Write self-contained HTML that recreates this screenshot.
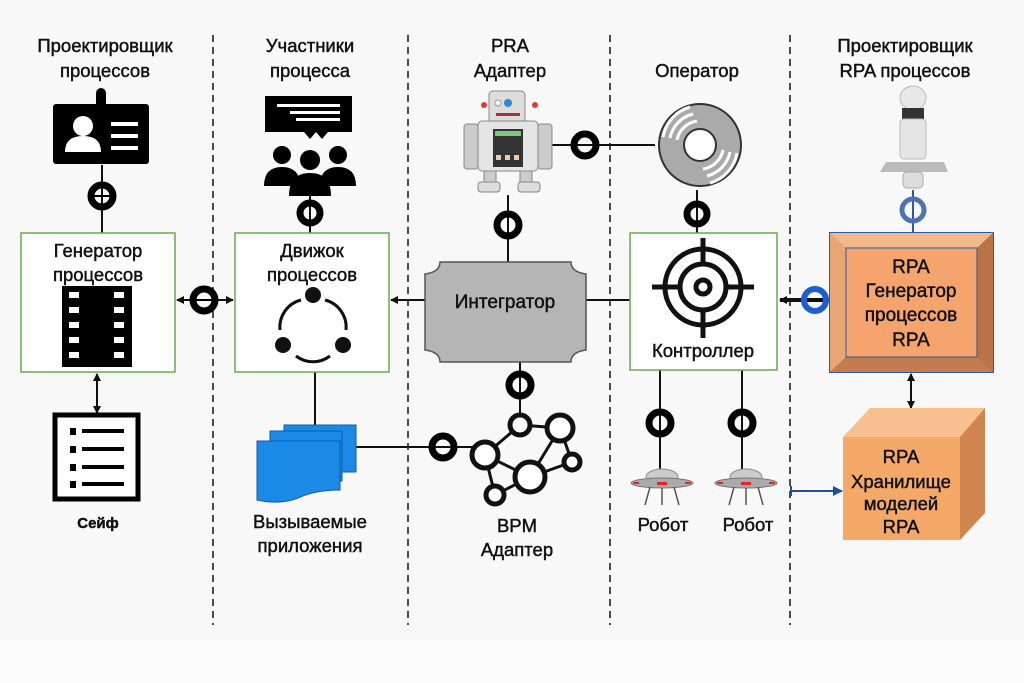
<!DOCTYPE html>
<html><head><meta charset="utf-8"><style>
html,body{margin:0;padding:0;background:#f8f8f8;}
svg{display:block;}
text{font-family:"Liberation Sans","DejaVu Sans",sans-serif;stroke:#111;stroke-width:0.45;}
</style></head><body>
<svg width="1024" height="683" viewBox="0 0 1024 683" xmlns="http://www.w3.org/2000/svg">
<defs>
<marker id="ah" markerWidth="8" markerHeight="8" refX="7" refY="4" orient="auto-start-reverse" markerUnits="userSpaceOnUse"><path d="M0,0 L8,4 L0,8 z" fill="#111"/></marker>
<marker id="ahb" markerWidth="10" markerHeight="10" refX="9" refY="5" orient="auto" markerUnits="userSpaceOnUse"><path d="M0,0 L10,5 L0,10 z" fill="#1f4fa0"/></marker>
</defs>
<rect width="1024" height="683" fill="#f8f8f8"/>
<rect x="0" y="640" width="1024" height="43" fill="#fcfcfc"/>
<g stroke="#222" stroke-width="1.6" stroke-dasharray="7,5">
<line x1="213" y1="35" x2="213" y2="625"/>
<line x1="408" y1="35" x2="408" y2="625"/>
<line x1="610" y1="35" x2="610" y2="625"/>
<line x1="790" y1="35" x2="790" y2="625"/>
</g>
<g font-size="18.5" fill="#111" text-anchor="middle">
<text x="105" y="52">Проектировщик</text><text x="105" y="77">процессов</text>
<text x="310" y="52">Участники</text><text x="310" y="77">процесса</text>
<text x="510" y="52">PRA</text><text x="510" y="77">Адаптер</text>
<text x="697" y="77">Оператор</text>
<text x="905" y="52">Проектировщик</text><text x="905" y="77">RPA процессов</text>
</g>
<g stroke="#111" stroke-width="2" fill="none">
<line x1="102" y1="165" x2="102" y2="233"/>
<line x1="310" y1="190" x2="310" y2="233"/>
<line x1="540" y1="145" x2="655" y2="145"/>
<line x1="508" y1="195" x2="508" y2="262"/>
<line x1="697" y1="190" x2="697" y2="233"/>
<line x1="177" y1="300" x2="233" y2="300" marker-start="url(#ah)" marker-end="url(#ah)"/>
<line x1="425" y1="300" x2="391" y2="300" marker-end="url(#ah)"/>
<line x1="586" y1="300" x2="630" y2="300"/>
<line x1="97" y1="374" x2="97" y2="413" marker-start="url(#ah)" marker-end="url(#ah)"/>
<line x1="315" y1="372" x2="315" y2="425"/>
<line x1="520" y1="362" x2="520" y2="420"/>
<line x1="350" y1="447" x2="480" y2="447"/>
<line x1="660" y1="370" x2="660" y2="470"/>
<line x1="742" y1="370" x2="742" y2="470"/>
<line x1="911" y1="374" x2="911" y2="408" marker-start="url(#ah)" marker-end="url(#ah)"/>
</g>
<line x1="913" y1="190" x2="913" y2="233" stroke="#2a5aa8" stroke-width="2"/>
<line x1="830" y1="300" x2="780" y2="300" stroke="#111" stroke-width="4" marker-end="url(#ah)"/>
<line x1="791" y1="491" x2="842" y2="491" stroke="#1f4fa0" stroke-width="2" marker-end="url(#ahb)"/>
<line x1="791" y1="486" x2="791" y2="496" stroke="#1f4fa0" stroke-width="2"/>
<rect x="21" y="233" width="154" height="139" fill="#fff" stroke="#6aa84f" stroke-width="1.5"/>
<rect x="235" y="233" width="154" height="139" fill="#fff" stroke="#6aa84f" stroke-width="1.5"/>
<rect x="630" y="233" width="147" height="137" fill="#fff" stroke="#6aa84f" stroke-width="1.5"/>
<path d="M440,262 H571 Q571,272 586,274 V350 Q571,352 571,362 H440 Q440,352 425,350 V274 Q440,272 440,262 z" fill="#b5b5b5" stroke="#555" stroke-width="1.5"/>
<text x="505" y="308" font-size="19" text-anchor="middle" fill="#111">Интегратор</text>
<rect x="830" y="233" width="163" height="139" fill="#d08a5a" stroke="#2a5aa8" stroke-width="2"/>
<polygon points="830,233 993,233 977,248 846,248" fill="#f2b98a"/>
<polygon points="830,233 846,248 846,357 830,372" fill="#e9a675"/>
<polygon points="993,233 977,248 977,357 993,372" fill="#b87448"/>
<polygon points="830,372 846,357 977,357 993,372" fill="#c27c4e"/>
<rect x="846" y="248" width="131" height="109" fill="#f4a46c" stroke="#2a5aa8" stroke-width="1"/>
<g font-size="19" text-anchor="middle" fill="#111">
<text x="911" y="273">RPA</text><text x="911" y="297">Генератор</text><text x="911" y="321">процессов</text><text x="911" y="346">RPA</text>
</g>
<polygon points="843,437 870,408 985,408 960,437" fill="#f7c08e"/>
<polygon points="960,437 985,408 985,513 960,540" fill="#d0854f"/>
<rect x="843" y="437" width="117" height="103" fill="#f5a968"/>
<g font-size="18.5" text-anchor="middle" fill="#111">
<text x="901" y="463">RPA</text><text x="901" y="488">Хранилище</text><text x="901" y="510">моделей</text><text x="901" y="533">RPA</text>
</g>
<g font-size="18.5" text-anchor="middle" fill="#111">
<text x="98" y="257">Генератор</text><text x="98" y="281">процессов</text>
<text x="312" y="257">Движок</text><text x="312" y="281">процессов</text>
<text x="703" y="357">Контроллер</text>
</g>
<rect x="62" y="286" width="70" height="81" fill="#000"/>
<g fill="#fff">
<rect x="69" y="292" width="10" height="6"/><rect x="69" y="307" width="10" height="6"/><rect x="69" y="322" width="10" height="6"/><rect x="69" y="337" width="10" height="6"/><rect x="69" y="352" width="10" height="6"/>
<rect x="114" y="292" width="10" height="6"/><rect x="114" y="307" width="10" height="6"/><rect x="114" y="322" width="10" height="6"/><rect x="114" y="337" width="10" height="6"/><rect x="114" y="352" width="10" height="6"/>
</g>
<g fill="#111"><circle cx="313" cy="295" r="8"/><circle cx="283" cy="345" r="8"/><circle cx="343" cy="345" r="8"/></g>
<g fill="none" stroke="#111" stroke-width="3">
<path d="M301,300 A28,28 0 0 0 280,330"/><path d="M325,300 A28,28 0 0 1 346,330"/><path d="M296,356 A28,28 0 0 0 330,356"/>
</g>
<g fill="none" stroke="#111" stroke-width="5">
<circle cx="703" cy="287" r="38"/><circle cx="703" cy="287" r="23"/><circle cx="703" cy="287" r="7"/>
</g>
<g stroke="#111" stroke-width="5">
<line x1="703" y1="238" x2="703" y2="266"/><line x1="703" y1="308" x2="703" y2="338"/>
<line x1="652" y1="287" x2="682" y2="287"/><line x1="724" y1="287" x2="754" y2="287"/>
</g>
<rect x="96" y="88" width="10" height="22" rx="5" fill="#000"/>
<rect x="53" y="104" width="96" height="60" rx="3" fill="#000"/>
<circle cx="83" cy="126" r="10" fill="#fff"/>
<path d="M65,152 Q65,136 83,136 Q101,136 101,152 z" fill="#fff"/>
<g fill="#fff"><rect x="111" y="122" width="27" height="4"/><rect x="111" y="134" width="27" height="4"/><rect x="111" y="146" width="27" height="4"/></g>
<path d="M265,96 H352 V132 H328 L322,139 L316,132 L310,139 L304,132 H265 z" fill="#000"/>
<g fill="#fff"><rect x="277" y="104" width="63" height="3"/><rect x="290" y="111" width="50" height="3"/><rect x="296" y="118" width="44" height="3"/></g>
<g fill="#000">
<circle cx="282" cy="155" r="9"/><circle cx="338" cy="155" r="9"/><circle cx="310" cy="160" r="10"/>
<path d="M264,186 Q264,167 282,167 Q300,167 300,186 z"/><path d="M320,186 Q320,167 338,167 Q356,167 356,186 z"/>
<path d="M289,196 Q289,173 310,173 Q331,173 331,196 z"/>
</g>
<g>
<rect x="489" y="91" width="36" height="32" rx="4" fill="#ddd" stroke="#888"/>
<circle cx="498" cy="103" r="3" fill="#fff" stroke="#999"/><circle cx="508" cy="103" r="4" fill="#2a8ad8"/>
<circle cx="484" cy="105" r="3" fill="#e33"/><circle cx="535" cy="105" r="3" fill="#e33"/>
<rect x="496" y="113" width="24" height="3" fill="#a33"/>
<rect x="478" y="121" width="60" height="50" rx="4" fill="#e5e5e5" stroke="#888"/>
<rect x="464" y="124" width="14" height="45" rx="3" fill="#ccc" stroke="#888"/>
<rect x="538" y="124" width="14" height="45" rx="3" fill="#ccc" stroke="#888"/>
<rect x="493" y="129" width="30" height="38" fill="#333"/>
<rect x="495" y="131" width="26" height="5" fill="#7c7"/>
<rect x="496" y="155" width="5" height="5" fill="#eca"/><rect x="505" y="155" width="5" height="5" fill="#eca"/><rect x="514" y="155" width="5" height="5" fill="#eca"/>
<rect x="484" y="171" width="12" height="16" fill="#ccc" stroke="#888"/><rect x="520" y="171" width="12" height="16" fill="#ccc" stroke="#888"/>
<rect x="478" y="182" width="22" height="10" rx="3" fill="#ddd" stroke="#888"/><rect x="518" y="182" width="22" height="10" rx="3" fill="#ddd" stroke="#888"/>
</g>
<circle cx="700" cy="145" r="41" fill="#aaa" stroke="#333" stroke-width="2"/>
<circle cx="700" cy="145" r="16" fill="#fff" stroke="#333" stroke-width="2"/>
<g fill="none" stroke="#fff" stroke-width="3">
<path d="M677,140 A24,24 0 0 1 697,121"/><path d="M670,138 A31,31 0 0 1 693,114"/><path d="M663,137 A38,38 0 0 1 690,107"/>
<path d="M723,150 A24,24 0 0 1 703,169"/><path d="M730,152 A31,31 0 0 1 707,176"/><path d="M737,153 A38,38 0 0 1 710,183"/>
</g>
<ellipse cx="913" cy="98" rx="13" ry="12" fill="#e8e8e8" stroke="#bbb"/>
<rect x="902" y="108" width="22" height="12" fill="#333"/>
<rect x="900" y="119" width="26" height="40" rx="4" fill="#e5e5e5" stroke="#bbb"/>
<polygon points="880,172 886,162 944,162 948,172" fill="#bbb"/>
<rect x="903" y="172" width="20" height="16" rx="4" fill="#ddd" stroke="#aaa"/>
<rect x="284" y="425" width="72" height="47" fill="#1a8ae6" stroke="#0a5cb0"/>
<rect x="270" y="431" width="72" height="50" fill="#1a8ae6" stroke="#0a5cb0"/>
<path d="M257,441 H340 V490 Q315,490 298,498 Q280,505 257,500 z" fill="#1a8ae6" stroke="#0a5cb0"/>
<rect x="55" y="415" width="83" height="84" fill="#fff" stroke="#000" stroke-width="5"/>
<g fill="#000">
<rect x="70" y="428" width="6" height="7"/><rect x="82" y="429" width="42" height="4"/>
<rect x="70" y="446" width="6" height="7"/><rect x="82" y="447" width="42" height="4"/>
<rect x="70" y="464" width="6" height="7"/><rect x="82" y="465" width="42" height="4"/>
<rect x="70" y="481" width="6" height="7"/><rect x="82" y="482" width="42" height="4"/>
</g>
<g stroke="#111" stroke-width="3" fill="none">
<line x1="520" y1="425" x2="560" y2="428"/><line x1="520" y1="425" x2="485" y2="455"/><line x1="560" y1="428" x2="530" y2="477"/>
<line x1="560" y1="428" x2="572" y2="462"/><line x1="485" y1="455" x2="530" y2="477"/><line x1="530" y1="477" x2="572" y2="462"/>
<line x1="485" y1="455" x2="495" y2="495"/><line x1="495" y1="495" x2="530" y2="477"/>
</g>
<g fill="#fff" stroke="#111" stroke-width="5">
<circle cx="520" cy="425" r="10"/><circle cx="560" cy="428" r="13"/><circle cx="485" cy="455" r="13"/>
<circle cx="530" cy="477" r="15"/><circle cx="572" cy="462" r="8"/><circle cx="495" cy="495" r="9"/>
</g>
<g>
<ellipse cx="662" cy="477" rx="16" ry="8" fill="#ccc" stroke="#888"/>
<ellipse cx="662" cy="483" rx="31" ry="5" fill="#aaa" stroke="#777"/>
<rect x="657" y="482" width="10" height="3" fill="#e22"/><rect x="633" y="482" width="6" height="2" fill="#e22"/><rect x="685" y="482" width="6" height="2" fill="#e22"/>
<g stroke="#555" stroke-width="1.5"><line x1="650" y1="487" x2="645" y2="505"/><line x1="662" y1="488" x2="662" y2="505"/><line x1="674" y1="487" x2="679" y2="505"/></g>
<ellipse cx="746" cy="477" rx="16" ry="8" fill="#ccc" stroke="#888"/>
<ellipse cx="746" cy="483" rx="31" ry="5" fill="#aaa" stroke="#777"/>
<rect x="741" y="482" width="10" height="3" fill="#e22"/><rect x="717" y="482" width="6" height="2" fill="#e22"/><rect x="769" y="482" width="6" height="2" fill="#e22"/>
<g stroke="#555" stroke-width="1.5"><line x1="734" y1="487" x2="729" y2="505"/><line x1="746" y1="488" x2="746" y2="505"/><line x1="758" y1="487" x2="763" y2="505"/></g>
</g>
<g fill="none" stroke="#000" stroke-width="7">
<circle cx="102" cy="196" r="11"/><circle cx="310" cy="213" r="10"/><circle cx="585" cy="145" r="11"/>
<circle cx="508" cy="225" r="11"/><circle cx="697" cy="214" r="10"/><circle cx="204" cy="300" r="11"/>
<circle cx="520" cy="385" r="11"/><circle cx="660" cy="423" r="11"/><circle cx="742" cy="423" r="11"/>
<circle cx="443" cy="447" r="11"/>
</g>
<g stroke="#000" stroke-width="2"><line x1="88" y1="196" x2="116" y2="196"/><line x1="192" y1="300" x2="216" y2="300"/></g>
<circle cx="913" cy="210" r="11" fill="none" stroke="#4d72b0" stroke-width="5"/>
<circle cx="815" cy="300" r="11" fill="none" stroke="#1e5fd0" stroke-width="6"/>
<g font-size="18.5" text-anchor="middle" fill="#111">
<text x="98" y="528" font-size="15" font-weight="bold">Сейф</text>
<text x="310" y="528">Вызываемые</text><text x="310" y="552">приложения</text>
<text x="517" y="532">BPM</text><text x="517" y="556">Адаптер</text>
<text x="663" y="531">Робот</text><text x="748" y="531">Робот</text>
</g>
</svg>
</body></html>
